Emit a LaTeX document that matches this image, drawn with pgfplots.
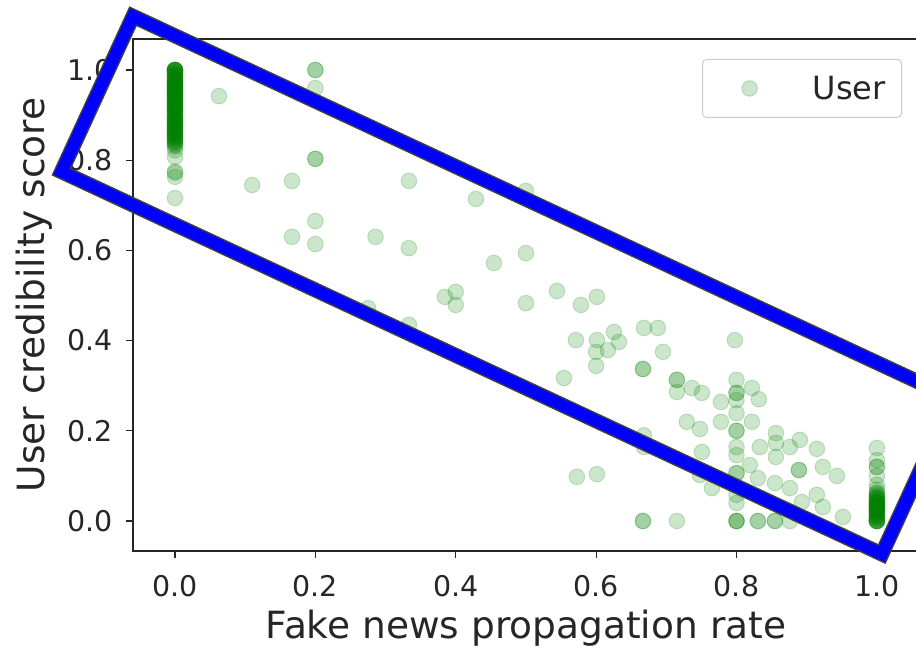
\documentclass[border=0pt]{standalone}
\usepackage{fontspec}
\setmainfont{DejaVu Sans}
\usepackage{pgfplots}
\pgfplotsset{compat=1.18}
\definecolor{mplgreen}{RGB}{0,128,0}
\definecolor{txt}{RGB}{38,38,38}
\begin{document}
\begin{tikzpicture}
\begin{axis}[
  at={(0,0)}, anchor=south west,
  scale only axis, width=786bp, height=512bp,
  xmin=-0.0598, xmax=1.06, ymin=-0.0665, ymax=1.0687,
  xtick={0,0.2,0.4,0.6,0.8,1.0}, ytick={0,0.2,0.4,0.6,0.8,1.0},
  /pgf/number format/assume math mode=true,
  /pgf/number format/fixed, /pgf/number format/fixed zerofill, /pgf/number format/precision=1,
  tick pos=left, tick align=outside, major tick length=7bp,
  every tick/.style={line width=1.2bp, txt},
  axis line style={line width=1.2bp, txt},
  ticklabel style={font=\fontsize{28.5bp}{34bp}\selectfont, text=txt, inner sep=0pt},
  xticklabel shift=17bp, yticklabel shift=13bp,
  xlabel={Fake news propagation rate}, ylabel={User credibility score},
  label style={font=\fontsize{37.5bp}{44bp}\selectfont, text=txt, inner sep=0pt},
  xlabel style={at={(axis description cs:0.5,-0.17)}, anchor=base},
  ylabel style={at={(axis description cs:-0.112,0.5)}, anchor=base},
  legend style={at={(axis description cs:0.9784,0.961)}, anchor=north east,
    draw=black!20, line width=1bp, rounded corners=4bp, fill=white,
    inner xsep=0pt, inner ysep=0pt, font=\fontsize{32bp}{38bp}\selectfont, text=txt,
    nodes={inner sep=0pt}},
  legend image code/.code={\path[draw=none,fill=none] (-47bp,-29bp) rectangle (63bp,29bp); \draw[#1] plot coordinates {(0bp,0bp)};},
]
\addplot[only marks, mark=*, mark size=7.8bp, mark options={draw=mplgreen, fill=mplgreen, line width=1bp, opacity=0.2}] coordinates {
(0,1.0) (0,1.0) (0,1.0) (0,1.0) (0,1.0) (0,0.995) (0,0.99) (0,0.985) (0,0.98) (0,0.975)
(0,0.97) (0,0.965) (0,0.96) (0,0.955) (0,0.95) (0,0.945) (0,0.94) (0,0.935) (0,0.93) (0,0.925)
(0,0.92) (0,0.915) (0,0.91) (0,0.905) (0,0.9) (0,0.895) (0,0.89) (0,0.885) (0,0.88) (0,0.875)
(0,0.87) (0,0.865) (0,0.86) (0,0.855) (0,0.85) (0,0.845) (0,0.84) (0,0.835) (0,0.83)
(0,0.9) (0,0.9167) (0,0.9375) (0,0.95) (0,0.875) (0,0.8889) (0,0.8571) (0,0.8333) (0,0.9231)
(0,0.9286) (0,0.9444) (0,0.9524) (0,0.9583) (0,0.9615) (0,0.9677) (0,0.9706) (0,0.9756)
(0,0.9975) (0,0.9925) (0,0.9875) (0,0.9825) (0,0.9775) (0,0.9725) (0,0.9675) (0,0.9625)
(0,0.9575) (0,0.9525) (0,0.9475) (0,0.9425) (0,0.9375) (0,0.9325) (0,0.9275) (0,0.9225)
(0,0.9175) (0,0.9125) (0,0.9075) (0,0.9025) (0,0.8975) (0,0.8925) (0,0.8875) (0,0.8825)
(0,0.8775) (0,0.8725) (0,0.8675) (0,0.8625) (0,0.8575) (0,0.8525) (0,0.8475) (0,0.8425)
(0,1.0) (0,1.0) (0,0.99) (0,0.98) (0,0.97) (0,0.96) (0,0.95) (0,0.94) (0,0.93) (0,0.92)
(0,0.91) (0,0.89) (0,0.88) (0,0.87) (0,0.86) (0,0.85) (0,0.84)
(0,0.822) (0,0.807) (0,0.775) (0,0.772) (0,0.763) (0,0.716)
(1,0.162) (1,0.135) (1,0.12) (1,0.12) (1,0.1) (1,0.08) (1,0.07) (1,0.062) (1,0.055) (1,0.05)
(1,0.045) (1,0.04) (1,0.035) (1,0.03) (1,0.025) (1,0.02) (1,0.015) (1,0.01) (1,0.005)
(1,0) (1,0) (1,0) (1,0) (1,0.0333) (1,0.0417) (1,0.05) (1,0.0625) (1,0.0286) (1,0.0222)
(1,0.0025) (1,0.0075) (1,0.0125) (1,0.0175) (1,0.0225) (1,0.0275) (1,0.0325) (1,0.0375)
(1,0.0425) (1,0.0475) (1,0.0525) (1,0.0575) (1,0) (1,0.01) (1,0.02) (1,0.03) (1,0.04)
(0.0627,0.942) (0.2,1.0) (0.2,1.0) (0.2,0.96) (0.2,0.803) (0.2,0.803)
(0.11,0.745) (0.1667,0.754) (0.3333,0.754) (0.2,0.665) (0.1667,0.63) (0.2,0.614)
(0.2857,0.63) (0.3333,0.605) (0.3846,0.497) (0.4,0.508) (0.4,0.479) (0.275,0.472)
(0.3333,0.435) (0.4288,0.714) (0.5,0.732) (0.4544,0.572) (0.5,0.594) (0.5,0.483)
(0.5442,0.51) (0.5783,0.479) (0.6011,0.497) (0.5712,0.401) (0.6011,0.401) (0.6,0.375)
(0.6254,0.419) (0.6325,0.397) (0.6168,0.379) (0.6,0.344) (0.6681,0.428) (0.688,0.428)
(0.6952,0.375) (0.6667,0.337) (0.6667,0.337) (0.5541,0.317) (0.7151,0.313) (0.7151,0.313)
(0.7151,0.286) (0.7365,0.295) (0.7507,0.284) (0.7977,0.401) (0.8,0.313) (0.8,0.284)
(0.8,0.284) (0.8,0.268) (0.8219,0.295) (0.8319,0.27) (0.7778,0.264) (0.8,0.239)
(0.7778,0.22) (0.8219,0.22) (0.8,0.2) (0.8,0.2) (0.7479,0.204) (0.7293,0.22)
(0.8561,0.195) (0.8561,0.173) (0.8333,0.164) (0.8561,0.142) (0.8761,0.164) (0.8903,0.18)
(0.9145,0.16) (0.8,0.164) (0.8,0.146) (0.7507,0.153) (0.819,0.124) (0.8889,0.113)
(0.8889,0.113) (0.923,0.12) (0.943,0.1) (0.8,0.106) (0.8,0.106) (0.8305,0.095)
(0.8547,0.084) (0.8761,0.073) (0.765,0.073) (0.8,0.058) (0.8,0.04) (0.9145,0.058)
(0.923,0.031) (0.8932,0.042) (0.9516,0.009) (0.6681,0.19) (0.6681,0.164) (0.7479,0.102)
(0.5726,0.098) (0.6011,0.104) (0.6667,0) (0.6667,0) (0.7151,0) (0.8,0) (0.8,0) (0.8,0)
(0.8305,0) (0.8305,0) (0.8547,0) (0.8547,0) (0.8761,0)
};
\addlegendentry{User\hspace*{16bp}}
\coordinate (r1) at (axis cs:-0.0598,1.1191);
\coordinate (r2) at (axis cs:-0.1617,0.7745);
\coordinate (r3) at (axis cs:1.0071,-0.0732);
\coordinate (r4) at (axis cs:1.1090,0.2721);
\end{axis}
\draw[line width=1.5bp, black!75, double=blue, double distance=12bp, line join=miter] (r1) -- (r2) -- (r3) -- (r4) -- cycle;
\pgfresetboundingbox
\path[use as bounding box] (-133bp,-97bp) rectangle (783bp,551bp);
\end{tikzpicture}
\end{document}
